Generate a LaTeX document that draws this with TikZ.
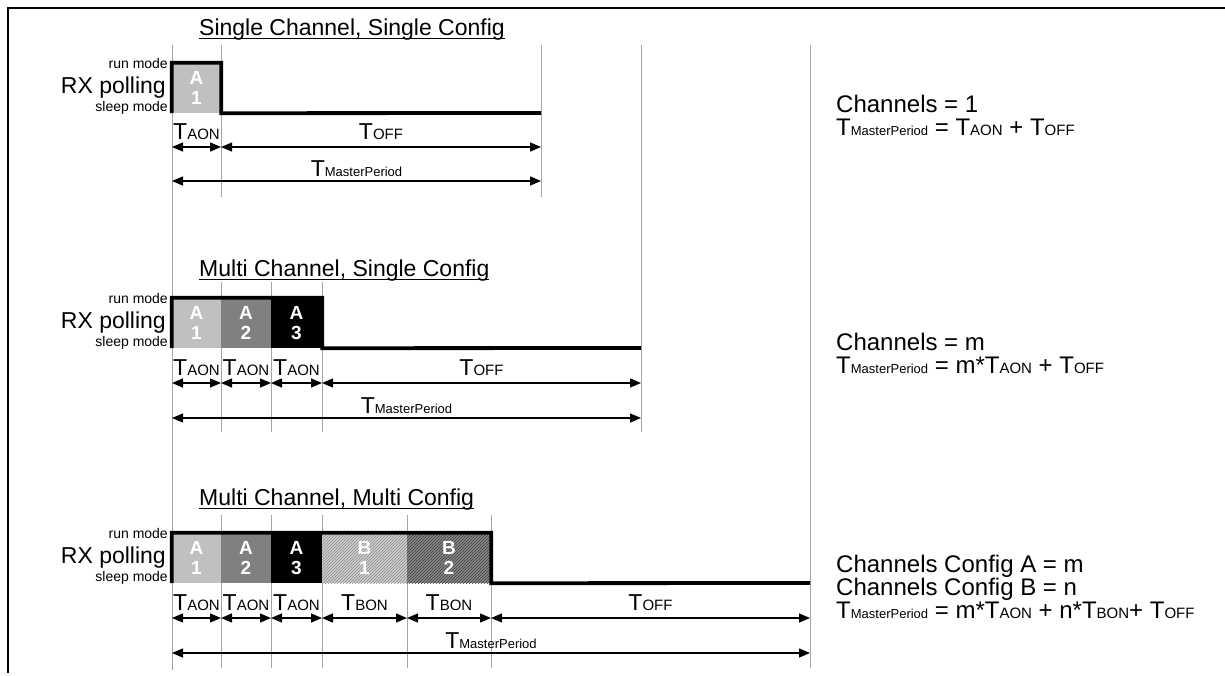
\documentclass[tikz,border=0pt]{standalone}
\usepackage{fontspec}
\setmainfont{Liberation Sans}
\usetikzlibrary{arrows.meta,positioning,patterns}
\definecolor{chlight}{RGB}{192,192,192}
\definecolor{chmid}{RGB}{128,128,128}
\definecolor{hatchlight}{RGB}{205,205,205}
\definecolor{hatchdark}{RGB}{135,135,135}
\definecolor{gridgray}{RGB}{165,165,165}
\newcommand{\bigf}{\fontsize{23}{23}\selectfont}
\newcommand{\eqf}{\fontsize{24}{23}\selectfont}
\newcommand{\subf}{\fontsize{15}{16}\selectfont}
\newcommand{\mpf}{\fontsize{13}{14}\selectfont}
\newcommand{\Tsub}[1]{T{\subf #1}}
\newcommand{\Tmp}{T{\mpf MasterPeriod}}
\newcommand{\ulbox}[1]{\setbox0\hbox{#1}\rlap{\rule[-4pt]{\wd0}{1.2pt}}\box0}

\begin{document}
\begin{tikzpicture}[x=1pt,y=-1pt,
grid/.style={draw=gridgray,line width=0.9pt},
sig/.style={line width=3.8pt},
dim/.style={{Triangle[length=11pt,width=9pt]}-{Triangle[length=11pt,width=9pt]},line width=1.3pt},
chan/.style={inner sep=0pt,minimum width=#1,minimum height=50pt,text=white,align=center,font=\bfseries\fontsize{19}{20}\selectfont},
hatch/.style={postaction={pattern=north east lines,pattern color=#1}},
title/.style={font=\bigf,inner sep=0pt,anchor=base west},
rx/.style={font=\bigf,inner sep=0pt,anchor=east},
mode/.style={font=\fontsize{14}{14}\selectfont,inner sep=0pt,anchor=east},
lbl/.style={font=\bigf,inner sep=1pt},
eqn/.style={font=\eqf,inner sep=0pt,anchor=west,align=left}
]
\useasboundingbox (0,0) rectangle (1225,675);
\draw[line width=2.6pt] (8,673) -- (8,8) -- (1225,8);

% long time lines
\draw[grid] (172,45) -- (172,670);
\draw[grid] (641,45) -- (641,432);
\draw[grid] (810,45) -- (810,668);

% single channel, single config
\node[title] (t1) at (199,35) {\ulbox{Single Channel, Single Config}};
\draw[grid] (221,45) -- (221,197);
\draw[grid] (541,45) -- (541,197);
\node[chan=49pt,fill=chlight] (s1a1) at (196.5,88) {A\\1};
\coordinate (s1off) at (541,113);
\draw[sig] (s1a1.south west) |- (s1a1.north east) -- (s1a1.south east) -- (s1off);
\node[mode] (s1run) at (168,63) {run mode};
\node[rx] (s1rx) at (166,88) {RX polling};
\node[mode] (s1sleep) at (168,108) {sleep mode};
\coordinate (s1p0) at (172,147);
\coordinate (s1p1) at (221,147);
\coordinate (s1p2) at (541,147);
\coordinate (s1m0) at (172,181);
\coordinate (s1m1) at (541,181);
\draw[dim] (s1p0) -- node[lbl,above=6pt] {\Tsub{AON}} (s1p1);
\draw[dim] (s1p1) -- node[lbl,above=6pt] {\Tsub{OFF}} (s1p2);
\draw[dim] (s1m0) -- node[lbl,above=3pt] {\Tmp} (s1m1);
\node[eqn] (s1eq) at (836,115) {Channels = 1\\\Tmp{} = \Tsub{AON} + \Tsub{OFF}};

% multi channel, single config
\node[title] (t2) at (199,276) {\ulbox{Multi Channel, Single Config}};
\foreach \x in {221,271,322} \draw[grid] (\x,282) -- (\x,432);
\node[chan=49pt,fill=chlight] (s2a1) at (196.5,323) {A\\1};
\node[chan=50pt,fill=chmid] (s2a2) at (246,323) {A\\2};
\node[chan=51pt,fill=black] (s2a3) at (296.5,323) {A\\3};
\coordinate (s2off) at (641,348);
\draw[sig] (s2a1.south west) |- (s2a3.north east) -- (s2a3.south east) -- (s2off);
\node[mode] (s2run) at (168,298) {run mode};
\node[rx] (s2rx) at (166,323) {RX polling};
\node[mode] (s2sleep) at (168,343) {sleep mode};
\coordinate (s2p0) at (172,383);
\coordinate (s2p1) at (221,383);
\coordinate (s2p2) at (271,383);
\coordinate (s2p3) at (322,383);
\coordinate (s2p4) at (641,383);
\coordinate (s2m0) at (172,418);
\coordinate (s2m1) at (641,418);
\draw[dim] (s2p0) -- node[lbl,above=6pt] {\Tsub{AON}} (s2p1);
\draw[dim] (s2p1) -- node[lbl,above=6pt] {\Tsub{AON}} (s2p2);
\draw[dim] (s2p2) -- node[lbl,above=6pt] {\Tsub{AON}} (s2p3);
\draw[dim] (s2p3) -- node[lbl,above=6pt] {\Tsub{OFF}} (s2p4);
\draw[dim] (s2m0) -- node[lbl,above=3pt] {\Tmp} (s2m1);
\node[eqn] (s2eq) at (836,353) {Channels = m\\\Tmp{} = m*\Tsub{AON} + \Tsub{OFF}};

% multi channel, multi config
\node[title] (t3) at (199,505) {\ulbox{Multi Channel, Multi Config}};
\foreach \x in {221,271,322,407,491} \draw[grid] (\x,515) -- (\x,668);
\node[chan=49pt,fill=chlight] (s3a1) at (196.5,558) {A\\1};
\node[chan=50pt,fill=chmid] (s3a2) at (246,558) {A\\2};
\node[chan=51pt,fill=black] (s3a3) at (296.5,558) {A\\3};
\node[chan=85pt,fill=hatchlight,hatch=black!45] (s3b1) at (364.5,558) {B\\1};
\node[chan=84pt,fill=hatchdark,hatch=black!75] (s3b2) at (449,558) {B\\2};
\coordinate (s3off) at (810,583);
\draw[sig] (s3a1.south west) |- (s3b2.north east) -- (s3b2.south east) -- (s3off);
\node[mode] (s3run) at (168,533) {run mode};
\node[rx] (s3rx) at (166,558) {RX polling};
\node[mode] (s3sleep) at (168,578) {sleep mode};
\coordinate (s3p0) at (172,618);
\coordinate (s3p1) at (221,618);
\coordinate (s3p2) at (271,618);
\coordinate (s3p3) at (322,618);
\coordinate (s3p4) at (407,618);
\coordinate (s3p5) at (491,618);
\coordinate (s3p6) at (810,618);
\coordinate (s3m0) at (172,653);
\coordinate (s3m1) at (810,653);
\draw[dim] (s3p0) -- node[lbl,above=6pt] {\Tsub{AON}} (s3p1);
\draw[dim] (s3p1) -- node[lbl,above=6pt] {\Tsub{AON}} (s3p2);
\draw[dim] (s3p2) -- node[lbl,above=6pt] {\Tsub{AON}} (s3p3);
\draw[dim] (s3p3) -- node[lbl,above=6pt] {\Tsub{BON}} (s3p4);
\draw[dim] (s3p4) -- node[lbl,above=6pt] {\Tsub{BON}} (s3p5);
\draw[dim] (s3p5) -- node[lbl,above=6pt] {\Tsub{OFF}} (s3p6);
\draw[dim] (s3m0) -- node[lbl,above=3pt] {\Tmp} (s3m1);
\node[eqn] (s3eq) at (836,587) {Channels Config A = m\\Channels Config B = n\\\Tmp{} = m*\Tsub{AON} + n*\Tsub{BON}+ \Tsub{OFF}};
\end{tikzpicture}
\end{document}
